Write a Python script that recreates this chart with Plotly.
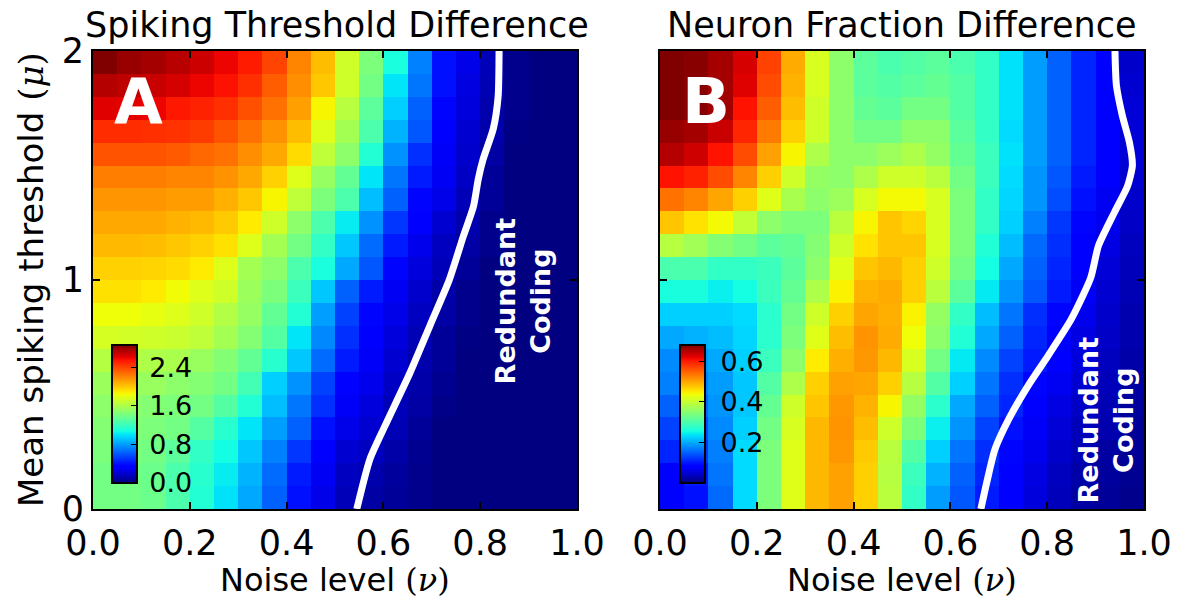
import plotly.graph_objects as go

# ---------------------------------------------------------------------------
# Data: 20 x 20 grids, rows listed from mu = 0.05 (bottom) to mu = 1.95 (top),
# columns from nu = 0.025 to nu = 0.975.
# ---------------------------------------------------------------------------
noise_centers = [round(0.025 + 0.05 * i, 3) for i in range(20)]
threshold_centers = [round(0.05 + 0.1 * j, 2) for j in range(20)]

spiking_threshold_diff = [
    [1.40, 1.40, 1.37, 1.26, 1.12, 0.99, 0.83, 0.63, 0.40, 0.26, 0.14, 0.09, 0.06, 0.03, 0, 0, 0, 0, 0, 0],
    [1.40, 1.40, 1.37, 1.26, 1.14, 1.02, 0.86, 0.66, 0.43, 0.29, 0.16, 0.11, 0.07, 0.03, 0, 0, 0, 0, 0, 0],
    [1.43, 1.43, 1.40, 1.32, 1.17, 1.07, 0.92, 0.72, 0.51, 0.34, 0.20, 0.16, 0.10, 0.04, 0, 0, 0, 0, 0, 0],
    [1.46, 1.46, 1.43, 1.40, 1.29, 1.14, 1.00, 0.80, 0.63, 0.40, 0.26, 0.20, 0.13, 0.06, 0, 0, 0, 0, 0, 0],
    [1.49, 1.49, 1.46, 1.43, 1.40, 1.29, 1.12, 0.89, 0.69, 0.49, 0.30, 0.23, 0.14, 0.09, 0.02, 0, 0, 0, 0, 0],
    [1.54, 1.54, 1.53, 1.49, 1.46, 1.40, 1.23, 0.94, 0.77, 0.54, 0.36, 0.27, 0.17, 0.10, 0.04, 0, 0, 0, 0, 0],
    [1.63, 1.63, 1.60, 1.59, 1.53, 1.46, 1.34, 1.14, 0.92, 0.66, 0.43, 0.30, 0.20, 0.11, 0.06, 0, 0, 0, 0, 0],
    [1.74, 1.73, 1.72, 1.70, 1.66, 1.57, 1.46, 1.29, 1.00, 0.74, 0.49, 0.33, 0.23, 0.13, 0.06, 0.01, 0, 0, 0, 0],
    [1.83, 1.83, 1.80, 1.77, 1.72, 1.62, 1.52, 1.34, 1.12, 0.80, 0.54, 0.37, 0.26, 0.16, 0.09, 0.03, 0, 0, 0, 0],
    [1.92, 1.92, 1.89, 1.84, 1.77, 1.72, 1.54, 1.43, 1.20, 0.92, 0.63, 0.43, 0.29, 0.19, 0.10, 0.03, 0, 0, 0, 0],
    [1.97, 1.97, 1.96, 1.94, 1.89, 1.77, 1.57, 1.49, 1.26, 1.09, 0.83, 0.60, 0.37, 0.23, 0.14, 0.06, 0, 0, 0, 0],
    [2.04, 2.04, 2.03, 2.00, 1.97, 1.92, 1.77, 1.57, 1.40, 1.17, 0.92, 0.66, 0.43, 0.27, 0.16, 0.09, 0.03, 0, 0, 0],
    [2.09, 2.09, 2.09, 2.06, 2.04, 1.99, 1.89, 1.72, 1.49, 1.26, 1.02, 0.77, 0.51, 0.33, 0.20, 0.11, 0.03, 0, 0, 0],
    [2.15, 2.15, 2.15, 2.13, 2.13, 2.07, 2.00, 1.86, 1.66, 1.43, 1.26, 0.89, 0.63, 0.37, 0.26, 0.14, 0.06, 0, 0, 0],
    [2.22, 2.22, 2.22, 2.20, 2.20, 2.16, 2.09, 1.97, 1.77, 1.52, 1.34, 1.00, 0.69, 0.43, 0.29, 0.17, 0.06, 0, 0, 0],
    [2.35, 2.35, 2.35, 2.33, 2.29, 2.26, 2.17, 2.09, 1.94, 1.66, 1.49, 1.12, 0.77, 0.49, 0.30, 0.19, 0.09, 0, 0, 0],
    [2.47, 2.47, 2.46, 2.45, 2.42, 2.35, 2.26, 2.16, 2.03, 1.77, 1.57, 1.26, 0.86, 0.60, 0.34, 0.20, 0.11, 0.01, 0, 0],
    [2.62, 2.61, 2.59, 2.53, 2.50, 2.46, 2.36, 2.26, 2.12, 1.86, 1.64, 1.32, 0.94, 0.63, 0.37, 0.23, 0.11, 0.03, 0, 0],
    [2.73, 2.71, 2.68, 2.65, 2.59, 2.55, 2.46, 2.32, 2.17, 2.00, 1.72, 1.40, 1.00, 0.69, 0.40, 0.24, 0.13, 0.03, 0, 0],
    [2.86, 2.80, 2.77, 2.72, 2.67, 2.59, 2.52, 2.40, 2.20, 2.03, 1.72, 1.43, 1.09, 0.72, 0.40, 0.26, 0.14, 0.03, 0, 0],
]

neuron_fraction_diff = [
    [0.078, 0.095, 0.156, 0.231, 0.340, 0.422, 0.486, 0.503, 0.469, 0.391, 0.279, 0.190, 0.143, 0.102, 0.078, 0.054, 0.034, 0.020, 0.014, 0.007],
    [0.085, 0.102, 0.163, 0.231, 0.340, 0.422, 0.486, 0.503, 0.469, 0.388, 0.286, 0.204, 0.150, 0.109, 0.082, 0.058, 0.037, 0.024, 0.017, 0.010],
    [0.109, 0.122, 0.170, 0.231, 0.340, 0.422, 0.486, 0.510, 0.473, 0.391, 0.306, 0.224, 0.163, 0.116, 0.088, 0.065, 0.044, 0.031, 0.020, 0.014],
    [0.129, 0.136, 0.177, 0.224, 0.333, 0.415, 0.486, 0.513, 0.483, 0.408, 0.340, 0.245, 0.184, 0.129, 0.095, 0.071, 0.051, 0.034, 0.027, 0.014],
    [0.150, 0.156, 0.184, 0.218, 0.320, 0.408, 0.476, 0.510, 0.490, 0.442, 0.360, 0.272, 0.197, 0.150, 0.109, 0.078, 0.058, 0.041, 0.031, 0.017],
    [0.170, 0.170, 0.190, 0.218, 0.306, 0.381, 0.469, 0.503, 0.500, 0.469, 0.388, 0.306, 0.224, 0.163, 0.116, 0.088, 0.068, 0.048, 0.034, 0.020],
    [0.177, 0.184, 0.197, 0.224, 0.286, 0.354, 0.449, 0.493, 0.510, 0.486, 0.415, 0.333, 0.241, 0.177, 0.129, 0.102, 0.075, 0.054, 0.037, 0.024],
    [0.197, 0.204, 0.211, 0.228, 0.272, 0.340, 0.422, 0.483, 0.513, 0.496, 0.435, 0.354, 0.265, 0.197, 0.150, 0.109, 0.082, 0.058, 0.041, 0.027],
    [0.224, 0.224, 0.224, 0.231, 0.272, 0.333, 0.408, 0.469, 0.500, 0.493, 0.445, 0.360, 0.279, 0.211, 0.163, 0.116, 0.088, 0.065, 0.044, 0.027],
    [0.258, 0.258, 0.245, 0.255, 0.286, 0.320, 0.381, 0.445, 0.490, 0.496, 0.469, 0.391, 0.313, 0.241, 0.184, 0.143, 0.102, 0.071, 0.048, 0.031],
    [0.299, 0.299, 0.279, 0.279, 0.286, 0.313, 0.354, 0.422, 0.476, 0.486, 0.469, 0.408, 0.333, 0.255, 0.197, 0.150, 0.109, 0.078, 0.051, 0.034],
    [0.388, 0.371, 0.347, 0.333, 0.313, 0.320, 0.347, 0.408, 0.456, 0.476, 0.476, 0.415, 0.340, 0.265, 0.211, 0.156, 0.116, 0.082, 0.058, 0.037],
    [0.476, 0.456, 0.439, 0.398, 0.354, 0.340, 0.340, 0.391, 0.442, 0.476, 0.466, 0.415, 0.340, 0.279, 0.224, 0.170, 0.122, 0.088, 0.065, 0.041],
    [0.537, 0.524, 0.500, 0.469, 0.422, 0.377, 0.354, 0.367, 0.415, 0.439, 0.439, 0.415, 0.340, 0.279, 0.228, 0.184, 0.136, 0.095, 0.068, 0.044],
    [0.605, 0.595, 0.564, 0.524, 0.469, 0.408, 0.360, 0.354, 0.381, 0.408, 0.408, 0.391, 0.333, 0.286, 0.231, 0.184, 0.143, 0.102, 0.075, 0.048],
    [0.649, 0.634, 0.605, 0.564, 0.503, 0.442, 0.381, 0.354, 0.354, 0.367, 0.381, 0.360, 0.320, 0.286, 0.235, 0.190, 0.150, 0.109, 0.078, 0.051],
    [0.666, 0.658, 0.637, 0.592, 0.530, 0.469, 0.408, 0.354, 0.333, 0.333, 0.354, 0.354, 0.313, 0.279, 0.231, 0.190, 0.150, 0.109, 0.078, 0.051],
    [0.680, 0.675, 0.660, 0.605, 0.551, 0.483, 0.408, 0.354, 0.320, 0.313, 0.333, 0.333, 0.306, 0.279, 0.235, 0.190, 0.150, 0.109, 0.078, 0.051],
    [0.680, 0.675, 0.658, 0.624, 0.564, 0.490, 0.415, 0.354, 0.313, 0.306, 0.313, 0.320, 0.306, 0.279, 0.235, 0.190, 0.150, 0.109, 0.078, 0.048],
    [0.680, 0.675, 0.658, 0.629, 0.571, 0.496, 0.415, 0.354, 0.313, 0.299, 0.306, 0.313, 0.299, 0.279, 0.235, 0.190, 0.150, 0.109, 0.078, 0.044],
]

# Redundant-coding boundaries (noise level, threshold)
boundary_a_noise = [0.545, 0.572, 0.603, 0.655, 0.696, 0.736, 0.765, 0.786, 0.796, 0.806, 0.827, 0.837, 0.839]
boundary_a_threshold = [0.0, 0.217, 0.362, 0.595, 0.80, 1.0, 1.19, 1.32, 1.44, 1.527, 1.66, 1.80, 2.0]
boundary_b_noise = [0.663, 0.675, 0.692, 0.72, 0.761, 0.802, 0.85, 0.89, 0.906, 0.94, 0.966, 0.976, 0.970, 0.955, 0.943, 0.94]
boundary_b_threshold = [0.0, 0.115, 0.26, 0.39, 0.54, 0.67, 0.83, 1.01, 1.15, 1.30, 1.41, 1.50, 1.60, 1.72, 1.85, 2.0]

cbar_a_ticks = [0.0, 0.8, 1.6, 2.4]
cbar_b_ticks = [0.2, 0.4, 0.6]
x_ticks = [0.0, 0.2, 0.4, 0.6, 0.8, 1.0]
y_ticks = [0, 1, 2]

# ---------------------------------------------------------------------------
# matplotlib-style "jet" colour map as a Plotly colorscale
# ---------------------------------------------------------------------------
_jet = {
    "r": [(0, 0), (0.35, 0), (0.66, 1), (0.89, 1), (1, 0.5)],
    "g": [(0, 0), (0.125, 0), (0.375, 1), (0.64, 1), (0.91, 0), (1, 0)],
    "b": [(0, 0.5), (0.11, 1), (0.34, 1), (0.65, 0), (1, 0)],
}


def _interp(pts, t):
    for (x0, y0), (x1, y1) in zip(pts[:-1], pts[1:]):
        if x0 <= t <= x1:
            return y0 + (y1 - y0) * (t - x0) / (x1 - x0) if x1 > x0 else y1
    return pts[-1][1]


_stops = sorted({p for ch in _jet.values() for p, _ in ch})
jet = [
    [t, "rgb(%d,%d,%d)" % tuple(round(255 * _interp(_jet[c], t)) for c in "rgb")]
    for t in _stops
]

W, H = 1179, 602
FONT = "DejaVu Sans"

# panel placement in pixels
pa_x0, pa_x1 = 93, 577
pb_x0, pb_x1 = 660, 1144
p_top, p_bot = 51, 509


def px(x):
    return x / W


def py(y):
    return (H - y) / H


def colorbar(x_left, ticks, pad):
    return dict(
        x=px(x_left), xanchor="left", y=py(483), yanchor="bottom",
        lenmode="pixels", len=138, thickness=25,
        outlinewidth=2, outlinecolor="black",
        tickvals=ticks, ticktext=[pad + "%.1f" % v for v in ticks],
        ticks="inside", ticklen=7, tickcolor="black", tickwidth=1.2,
        tickfont=dict(family=FONT, size=27, color="black"),
        bgcolor="rgba(0,0,0,0)", xpad=0, ypad=0,
    )


fig = go.Figure()

fig.add_trace(go.Heatmap(
    z=spiking_threshold_diff, x=noise_centers, y=threshold_centers,
    colorscale=jet, zmin=0, zmax=2.86, xaxis="x", yaxis="y",
    colorbar=colorbar(112, cbar_a_ticks, "\u2009"), hoverinfo="skip",
))

fig.add_trace(go.Heatmap(
    z=neuron_fraction_diff, x=noise_centers, y=threshold_centers,
    colorscale=jet, zmin=0, zmax=0.68, xaxis="x2", yaxis="y2",
    colorbar=colorbar(680, cbar_b_ticks, "\u00a0"), hoverinfo="skip",
))

for xs, ys, xa, ya in [
    (boundary_a_noise, boundary_a_threshold, "x", "y"),
    (boundary_b_noise, boundary_b_threshold, "x2", "y2"),
]:
    fig.add_trace(go.Scatter(
        x=xs, y=ys, mode="lines", xaxis=xa, yaxis=ya,
        line=dict(color="white", width=7, shape="spline", smoothing=0.6),
        showlegend=False, hoverinfo="skip",
    ))

axis_common = dict(
    showline=True, linecolor="black", linewidth=2, mirror="allticks",
    ticks="inside", ticklen=7, tickwidth=1.5, tickcolor="black",
    showgrid=False, zeroline=False, automargin=False,
    tickfont=dict(family=FONT, size=35, color="black"),
)

fig.update_layout(
    width=W, height=H,
    margin=dict(l=0, r=0, t=0, b=0),
    paper_bgcolor="white", plot_bgcolor="white",
    showlegend=False,
    xaxis=dict(domain=[px(pa_x0), px(pa_x1)], range=[0, 1], anchor="y",
               ticklabelstandoff=2,
               tickvals=x_ticks, ticktext=["%.1f" % v for v in x_ticks], **axis_common),
    yaxis=dict(domain=[py(p_bot), py(p_top)], range=[0, 2], anchor="x",
               tickvals=y_ticks, ticktext=[str(v) for v in y_ticks], **axis_common),
    xaxis2=dict(domain=[px(pb_x0), px(pb_x1)], range=[0, 1], anchor="y2",
                ticklabelstandoff=2,
                tickvals=x_ticks, ticktext=["%.1f" % v for v in x_ticks], **axis_common),
    yaxis2=dict(domain=[py(p_bot), py(p_top)], range=[0, 2], anchor="x2",
                tickvals=y_ticks, showticklabels=False, **axis_common),
)

serif = "font-family:'DejaVu Serif'"
annotations = [
    # panel titles
    dict(text="Spiking Threshold Difference", x=px((pa_x0 + pa_x1) / 2 + 2), y=py(25),
         xref="paper", yref="paper", showarrow=False, xanchor="center", yanchor="middle",
         font=dict(family=FONT, size=35, color="black")),
    dict(text="Neuron Fraction Difference", x=px((pb_x0 + pb_x1) / 2), y=py(25),
         xref="paper", yref="paper", showarrow=False, xanchor="center", yanchor="middle",
         font=dict(family=FONT, size=35, color="black")),
    # axis titles
    dict(text="Noise level <span style=\"%s\">(<i>ν</i>)</span>" % serif,
         x=px((pa_x0 + pa_x1) / 2), y=py(580), xref="paper", yref="paper",
         showarrow=False, xanchor="center", yanchor="middle",
         font=dict(family=FONT, size=32, color="black")),
    dict(text="Noise level <span style=\"%s\">(<i>ν</i>)</span>" % serif,
         x=px((pb_x0 + pb_x1) / 2), y=py(580), xref="paper", yref="paper",
         showarrow=False, xanchor="center", yanchor="middle",
         font=dict(family=FONT, size=32, color="black")),
    dict(text="Mean spiking threshold <span style=\"%s\">(<i>μ</i>)</span>" % serif,
         x=px(31), y=py((p_top + p_bot) / 2), xref="paper", yref="paper",
         showarrow=False, xanchor="center", yanchor="middle", textangle=-90,
         font=dict(family=FONT, size=34, color="black")),
    # panel letters
    dict(text="<b>A</b>", x=0.095, y=1.78, xref="x", yref="y", showarrow=False,
         font=dict(family=FONT, size=63, color="white")),
    dict(text="<b>B</b>", x=0.095, y=1.78, xref="x2", yref="y2", showarrow=False,
         font=dict(family=FONT, size=63, color="white")),
    # region labels
    dict(text="<b>Redundant<br>Coding</b>", x=0.888, y=0.91, xref="x", yref="y",
         showarrow=False, textangle=-90,
         font=dict(family=FONT, size=27, color="white")),
    dict(text="<b>Redundant<br>Coding</b>", x=0.921, y=0.39, xref="x2", yref="y2",
         showarrow=False, textangle=-90,
         font=dict(family=FONT, size=27, color="white")),
]
fig.update_layout(annotations=annotations)

fig.write_html("out.html")
